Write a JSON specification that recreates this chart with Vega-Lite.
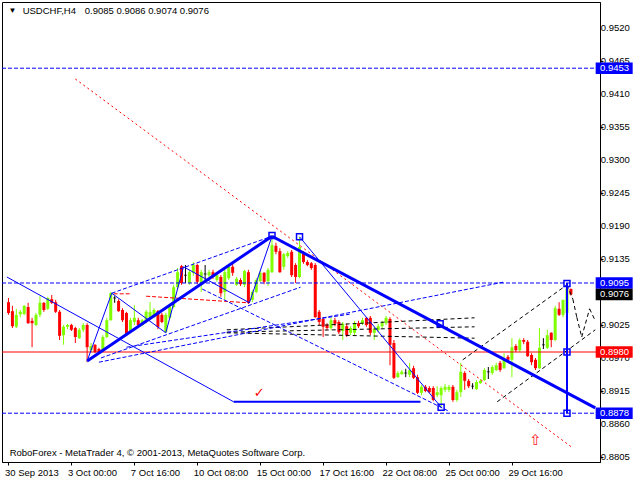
{
"$schema": "https://vega.github.io/schema/vega-lite/v6.json",
"width": 598, "height": 460,
"autosize": {"type": "none"},
"padding": {"left": 2, "top": 2, "right": 40, "bottom": 18},
"background": "white",
"config": {"view": {"stroke": "#000000", "strokeWidth": 1}, "font": "Liberation Sans"},
"datasets": {
"candles": [
{"i":0,"o":0.9063,"c":0.9045,"h":0.9070,"l":0.9042},
{"i":1,"o":0.9048,"c":0.9023,"h":0.9057,"l":0.9020},
{"i":2,"o":0.9022,"c":0.9042,"h":0.9052,"l":0.9020},
{"i":3,"o":0.9043,"c":0.9047,"h":0.9050,"l":0.9038},
{"i":4,"o":0.9043,"c":0.9057,"h":0.9058,"l":0.9042},
{"i":5,"o":0.9055,"c":0.9028,"h":0.9062,"l":0.9027},
{"i":6,"o":0.9032,"c":0.9028,"h":0.9037,"l":0.8988},
{"i":7,"o":0.9025,"c":0.9042,"h":0.9045,"l":0.9023},
{"i":8,"o":0.9042,"c":0.9062,"h":0.9073,"l":0.9038},
{"i":9,"o":0.9062,"c":0.9050,"h":0.9063,"l":0.9047},
{"i":10,"o":0.9052,"c":0.9070,"h":0.9072,"l":0.9050},
{"i":11,"o":0.9068,"c":0.9062,"h":0.9075,"l":0.9060},
{"i":12,"o":0.9063,"c":0.9047,"h":0.9067,"l":0.9045},
{"i":13,"o":0.9047,"c":0.9007,"h":0.9050,"l":0.9000},
{"i":14,"o":0.9008,"c":0.9022,"h":0.9025,"l":0.8992},
{"i":15,"o":0.9022,"c":0.9025,"h":0.9027,"l":0.9018},
{"i":16,"o":0.9025,"c":0.9017,"h":0.9027,"l":0.9015},
{"i":17,"o":0.9020,"c":0.9005,"h":0.9022,"l":0.8995},
{"i":18,"o":0.9003,"c":0.9017,"h":0.9020,"l":0.9002},
{"i":19,"o":0.9017,"c":0.9025,"h":0.9028,"l":0.9013},
{"i":20,"o":0.9025,"c":0.8988,"h":0.9028,"l":0.8963},
{"i":21,"o":0.8983,"c":0.8990,"h":0.8995,"l":0.8980},
{"i":22,"o":0.8992,"c":0.8980,"h":0.8993,"l":0.8978},
{"i":23,"o":0.8985,"c":0.8980,"h":0.8987,"l":0.8978},
{"i":24,"o":0.8983,"c":0.9005,"h":0.9008,"l":0.8982},
{"i":25,"o":0.9005,"c":0.9033,"h":0.9037,"l":0.9003},
{"i":26,"o":0.9033,"c":0.9078,"h":0.9080,"l":0.9032},
{"i":27,"o":0.9070,"c":0.9070,"h":0.9073,"l":0.9062},
{"i":28,"o":0.9065,"c":0.9048,"h":0.9068,"l":0.9047},
{"i":29,"o":0.9050,"c":0.9033,"h":0.9053,"l":0.9030},
{"i":30,"o":0.9045,"c":0.9008,"h":0.9047,"l":0.9007},
{"i":31,"o":0.9015,"c":0.9033,"h":0.9037,"l":0.9013},
{"i":32,"o":0.9030,"c":0.9037,"h":0.9058,"l":0.9025},
{"i":33,"o":0.9033,"c":0.9025,"h":0.9037,"l":0.9022},
{"i":34,"o":0.9025,"c":0.9033,"h":0.9035,"l":0.9023},
{"i":35,"o":0.9030,"c":0.9047,"h":0.9050,"l":0.9028},
{"i":36,"o":0.9038,"c":0.9047,"h":0.9063,"l":0.9037},
{"i":37,"o":0.9038,"c":0.9050,"h":0.9053,"l":0.9037},
{"i":38,"o":0.9048,"c":0.9022,"h":0.9050,"l":0.9018},
{"i":39,"o":0.9042,"c":0.9030,"h":0.9045,"l":0.9028},
{"i":40,"o":0.9013,"c":0.9042,"h":0.9045,"l":0.9012},
{"i":41,"o":0.9037,"c":0.9055,"h":0.9058,"l":0.9035},
{"i":42,"o":0.9055,"c":0.9088,"h":0.9092,"l":0.9053},
{"i":43,"o":0.9088,"c":0.9113,"h":0.9120,"l":0.9085},
{"i":44,"o":0.9123,"c":0.9095,"h":0.9125,"l":0.9092},
{"i":45,"o":0.9108,"c":0.9108,"h":0.9125,"l":0.9095},
{"i":46,"o":0.9095,"c":0.9113,"h":0.9117,"l":0.9092},
{"i":47,"o":0.9112,"c":0.9125,"h":0.9130,"l":0.9107},
{"i":48,"o":0.9125,"c":0.9097,"h":0.9127,"l":0.9093},
{"i":49,"o":0.9093,"c":0.9113,"h":0.9117,"l":0.9080},
{"i":50,"o":0.9110,"c":0.9110,"h":0.9125,"l":0.9095},
{"i":51,"o":0.9108,"c":0.9113,"h":0.9117,"l":0.9105},
{"i":52,"o":0.9113,"c":0.9105,"h":0.9117,"l":0.9102},
{"i":53,"o":0.9100,"c":0.9108,"h":0.9112,"l":0.9097},
{"i":54,"o":0.9105,"c":0.9078,"h":0.9108,"l":0.9072},
{"i":55,"o":0.9080,"c":0.9113,"h":0.9117,"l":0.9067},
{"i":56,"o":0.9103,"c":0.9122,"h":0.9125,"l":0.9100},
{"i":57,"o":0.9122,"c":0.9112,"h":0.9127,"l":0.9107},
{"i":58,"o":0.9092,"c":0.9102,"h":0.9105,"l":0.9090},
{"i":59,"o":0.9100,"c":0.9093,"h":0.9103,"l":0.9090},
{"i":60,"o":0.9092,"c":0.9115,"h":0.9117,"l":0.9088},
{"i":61,"o":0.9113,"c":0.9062,"h":0.9117,"l":0.9060},
{"i":62,"o":0.9067,"c":0.9080,"h":0.9083,"l":0.9063},
{"i":63,"o":0.9080,"c":0.9100,"h":0.9103,"l":0.9078},
{"i":64,"o":0.9098,"c":0.9112,"h":0.9115,"l":0.9097},
{"i":65,"o":0.9112,"c":0.9097,"h":0.9113,"l":0.9093},
{"i":66,"o":0.9098,"c":0.9117,"h":0.9120,"l":0.9090},
{"i":67,"o":0.9113,"c":0.9158,"h":0.9175,"l":0.9112},
{"i":68,"o":0.9157,"c":0.9147,"h":0.9162,"l":0.9143},
{"i":69,"o":0.9148,"c":0.9113,"h":0.9153,"l":0.9112},
{"i":70,"o":0.9122,"c":0.9143,"h":0.9145,"l":0.9117},
{"i":71,"o":0.9140,"c":0.9145,"h":0.9148,"l":0.9137},
{"i":72,"o":0.9147,"c":0.9108,"h":0.9150,"l":0.9105},
{"i":73,"o":0.9125,"c":0.9105,"h":0.9128,"l":0.9095},
{"i":74,"o":0.9105,"c":0.9155,"h":0.9172,"l":0.9103},
{"i":75,"o":0.9145,"c":0.9130,"h":0.9148,"l":0.9127},
{"i":76,"o":0.9130,"c":0.9125,"h":0.9133,"l":0.9123},
{"i":77,"o":0.9128,"c":0.9120,"h":0.9130,"l":0.9117},
{"i":78,"o":0.9125,"c":0.9038,"h":0.9128,"l":0.9037},
{"i":79,"o":0.9047,"c":0.9030,"h":0.9050,"l":0.9025},
{"i":80,"o":0.9035,"c":0.9022,"h":0.9038,"l":0.9005},
{"i":81,"o":0.9025,"c":0.9020,"h":0.9028,"l":0.9017},
{"i":82,"o":0.9020,"c":0.9033,"h":0.9037,"l":0.9017},
{"i":83,"o":0.9033,"c":0.9027,"h":0.9037,"l":0.9023},
{"i":84,"o":0.9030,"c":0.9013,"h":0.9033,"l":0.9010},
{"i":85,"o":0.9015,"c":0.9027,"h":0.9030,"l":0.9000},
{"i":86,"o":0.9023,"c":0.9008,"h":0.9027,"l":0.9005},
{"i":87,"o":0.9012,"c":0.9020,"h":0.9023,"l":0.9008},
{"i":88,"o":0.9012,"c":0.9028,"h":0.9032,"l":0.9008},
{"i":89,"o":0.9028,"c":0.9023,"h":0.9032,"l":0.9020},
{"i":90,"o":0.9028,"c":0.9033,"h":0.9037,"l":0.9025},
{"i":91,"o":0.9037,"c":0.9025,"h":0.9038,"l":0.9022},
{"i":92,"o":0.9037,"c":0.9012,"h":0.9040,"l":0.9008},
{"i":93,"o":0.9012,"c":0.9018,"h":0.9022,"l":0.9000},
{"i":94,"o":0.9017,"c":0.9023,"h":0.9027,"l":0.9013},
{"i":95,"o":0.9023,"c":0.9028,"h":0.9032,"l":0.9020},
{"i":96,"o":0.9028,"c":0.9037,"h":0.9040,"l":0.9025},
{"i":97,"o":0.9035,"c":0.8992,"h":0.9038,"l":0.8958},
{"i":98,"o":0.8995,"c":0.8937,"h":0.9000,"l":0.8935},
{"i":99,"o":0.8938,"c":0.8945,"h":0.8948,"l":0.8937},
{"i":100,"o":0.8943,"c":0.8947,"h":0.8950,"l":0.8942},
{"i":101,"o":0.8945,"c":0.8945,"h":0.8952,"l":0.8938},
{"i":102,"o":0.8942,"c":0.8950,"h":0.8962,"l":0.8938},
{"i":103,"o":0.8953,"c":0.8937,"h":0.8957,"l":0.8935},
{"i":104,"o":0.8938,"c":0.8912,"h":0.8942,"l":0.8910},
{"i":105,"o":0.8912,"c":0.8922,"h":0.8925,"l":0.8908},
{"i":106,"o":0.8922,"c":0.8915,"h":0.8925,"l":0.8913},
{"i":107,"o":0.8920,"c":0.8913,"h":0.8923,"l":0.8912},
{"i":108,"o":0.8920,"c":0.8900,"h":0.8923,"l":0.8898},
{"i":109,"o":0.8908,"c":0.8913,"h":0.8923,"l":0.8905},
{"i":110,"o":0.8908,"c":0.8920,"h":0.8923,"l":0.8887},
{"i":111,"o":0.8917,"c":0.8922,"h":0.8927,"l":0.8913},
{"i":112,"o":0.8917,"c":0.8922,"h":0.8925,"l":0.8913},
{"i":113,"o":0.8922,"c":0.8900,"h":0.8925,"l":0.8897},
{"i":114,"o":0.8900,"c":0.8913,"h":0.8917,"l":0.8897},
{"i":115,"o":0.8913,"c":0.8947,"h":0.8962,"l":0.8905},
{"i":116,"o":0.8945,"c":0.8932,"h":0.8948,"l":0.8917},
{"i":117,"o":0.8932,"c":0.8923,"h":0.8935,"l":0.8920},
{"i":118,"o":0.8923,"c":0.8923,"h":0.8928,"l":0.8918},
{"i":119,"o":0.8918,"c":0.8930,"h":0.8933,"l":0.8917},
{"i":120,"o":0.8928,"c":0.8932,"h":0.8935,"l":0.8927},
{"i":121,"o":0.8933,"c":0.8950,"h":0.8953,"l":0.8932},
{"i":122,"o":0.8947,"c":0.8947,"h":0.8955,"l":0.8935},
{"i":123,"o":0.8945,"c":0.8955,"h":0.8958,"l":0.8942},
{"i":124,"o":0.8950,"c":0.8958,"h":0.8962,"l":0.8948},
{"i":125,"o":0.8962,"c":0.8950,"h":0.8965,"l":0.8947},
{"i":126,"o":0.8953,"c":0.8967,"h":0.8978,"l":0.8952},
{"i":127,"o":0.8972,"c":0.8967,"h":0.8975,"l":0.8963},
{"i":128,"o":0.8967,"c":0.8988,"h":0.9003,"l":0.8938},
{"i":129,"o":0.8990,"c":0.8983,"h":0.8993,"l":0.8980},
{"i":130,"o":0.8983,"c":0.9000,"h":0.9003,"l":0.8980},
{"i":131,"o":0.9000,"c":0.8997,"h":0.9003,"l":0.8993},
{"i":132,"o":0.8997,"c":0.8973,"h":0.9000,"l":0.8972},
{"i":133,"o":0.8975,"c":0.8963,"h":0.8978,"l":0.8958},
{"i":134,"o":0.8967,"c":0.8953,"h":0.8970,"l":0.8950},
{"i":135,"o":0.8953,"c":0.8987,"h":0.9020,"l":0.8952},
{"i":136,"o":0.8992,"c":0.8992,"h":0.9003,"l":0.8985},
{"i":137,"o":0.8987,"c":0.9008,"h":0.9017,"l":0.8985},
{"i":138,"o":0.9012,"c":0.9000,"h":0.9013,"l":0.8988},
{"i":139,"o":0.9000,"c":0.9053,"h":0.9057,"l":0.8998},
{"i":140,"o":0.9052,"c":0.9042,"h":0.9063,"l":0.9040},
{"i":141,"o":0.9042,"c":0.9067,"h":0.9067,"l":0.9038},
{"i":142,"o":0.9045,"c":0.9085,"h":0.9095,"l":0.9043},
{"i":143,"o":0.9085,"c":0.9076,"h":0.9086,"l":0.9074}
],
"yticks": [{"v":0.8805},{"v":0.8860},{"v":0.8915},{"v":0.8970},{"v":0.9025},{"v":0.9135},{"v":0.9190},{"v":0.9245},{"v":0.9300},{"v":0.9355},{"v":0.9410},{"v":0.9465},{"v":0.9520}],
"hblue": [{"p":0.9453},{"p":0.9095},{"p":0.8878}],
"hred": [{"p":0.8980}],
"thick": [
{"x1":20,"p1":0.8965,"x2":67,"p2":0.9173},
{"x1":67,"p1":0.9173,"x2":149.2,"p2":0.8887}
],
"thin": [
{"x1":-0.4,"p1":0.9105,"x2":57.25,"p2":0.8897},
{"x1":20,"p1":0.8965,"x2":26.25,"p2":0.9078},
{"x1":26.25,"p1":0.9078,"x2":40,"p2":0.9012},
{"x1":40,"p1":0.9012,"x2":44.5,"p2":0.9122},
{"x1":44.5,"p1":0.9122,"x2":61.25,"p2":0.9062},
{"x1":61.25,"p1":0.9062,"x2":67,"p2":0.9173},
{"x1":74,"p1":0.9172,"x2":110,"p2":0.8888}
],
"mid": [
{"x1":57.25,"p1":0.8897,"x2":104.75,"p2":0.8897},
{"x1":142,"p1":0.9095,"x2":142,"p2":0.8878}
],
"bdash": [
{"x1":26.25,"p1":0.9078,"x2":67,"p2":0.9173},
{"x1":23.5,"p1":0.8970,"x2":74.25,"p2":0.9088},
{"x1":30,"p1":0.8988,"x2":86.75,"p2":0.9043},
{"x1":23,"p1":0.8963,"x2":126.25,"p2":0.9097},
{"x1":49.25,"p1":0.9085,"x2":111.75,"p2":0.8882}
],
"rdash": [
{"x1":26.75,"p1":0.9077,"x2":31.25,"p2":0.9077},
{"x1":35,"p1":0.9073,"x2":61,"p2":0.9062}
],
"rdot": [
{"x1":17,"p1":0.9435,"x2":143.5,"p2":0.8820}
],
"kdash": [
{"x1":55.5,"p1":0.9017,"x2":118.5,"p2":0.9037},
{"x1":55.5,"p1":0.9013,"x2":118.5,"p2":0.9022},
{"x1":55.5,"p1":0.9012,"x2":118.5,"p2":0.9003},
{"x1":115.5,"p1":0.8967,"x2":142,"p2":0.9092},
{"x1":124.25,"p1":0.8897,"x2":149.2,"p2":0.9017},
{"x1":142,"p1":0.9092,"x2":143.5,"p2":0.9068},
{"x1":143.5,"p1":0.9068,"x2":144.5,"p2":0.9038},
{"x1":144.5,"p1":0.9038,"x2":145.75,"p2":0.9005},
{"x1":145.75,"p1":0.9005,"x2":147.75,"p2":0.9052},
{"x1":147.75,"p1":0.9052,"x2":149.2,"p2":0.9032}
],
"squares": [
{"i":67,"p":0.9174},{"i":74,"p":0.9172},{"i":109.75,"p":0.9027},{"i":110,"p":0.8888},
{"i":142,"p":0.9094},{"i":142,"p":0.8980},{"i":142,"p":0.8878}
],
"boxes": [
{"p":0.9453,"kind":"level"},
{"p":0.9095,"kind":"level"},
{"p":0.9076,"kind":"bid"},
{"p":0.8980,"kind":"pivot"},
{"p":0.8878,"kind":"level"}
]
},
"layer": [
{"data": {"name": "candles"},
 "mark": {"type": "rule", "strokeWidth": 1},
 "encoding": {
  "x": {"field": "i", "type": "quantitative",
   "scale": {"domain": [-0.375, 149.125], "nice": false, "zero": false},
   "axis": {"values": [0,16,32,48,64,80,96,112,128],
    "labelExpr": "['30 Sep 2013','3 Oct 00:00','7 Oct 16:00','10 Oct 08:00','15 Oct 00:00','17 Oct 16:00','22 Oct 08:00','25 Oct 00:00','29 Oct 16:00'][round(datum.value/16)]",
    "title": null, "grid": false, "domainColor": "#000000", "tickColor": "#000000", "tickSize": 3,
    "labelAlign": "left", "labelBaseline": "top", "labelPadding": 2, "labelOffset": -4,
    "labelFontSize": 9.5, "labelColor": "#000000", "labelOverlap": false, "labelFlush": false}},
  "y": {"field": "l", "type": "quantitative",
   "scale": {"domain": [0.8796667, 0.9563333], "nice": false, "zero": false},
   "axis": {"orient": "right", "values": [0.8805,0.886,0.8915,0.897,0.9025,0.908,0.9135,0.919,0.9245,0.93,0.9355,0.941,0.9465,0.952],
    "labels": false, "title": null, "grid": false, "tickSize": 3,
    "domainColor": "#000000", "tickColor": "#000000"}},
  "y2": {"field": "h"},
  "color": {"condition": [{"test": "datum.c > datum.o", "value": "#80ff00"}, {"test": "datum.c < datum.o", "value": "#ff0000"}], "value": "#000000"}
 }},
{"data": {"name": "candles"},
 "mark": {"type": "bar", "size": 3},
 "encoding": {
  "x": {"field": "i", "type": "quantitative"},
  "y": {"field": "o", "type": "quantitative"},
  "y2": {"field": "c"},
  "color": {"condition": [{"test": "datum.c > datum.o", "value": "#80ff00"}, {"test": "datum.c < datum.o", "value": "#ff0000"}], "value": "#000000"}
 }},
{"data": {"name": "candles"},
 "transform": [{"filter": "datum.o == datum.c"}],
 "mark": {"type": "tick", "orient": "horizontal", "size": 3, "thickness": 1, "color": "#000000"},
 "encoding": {"x": {"field": "i", "type": "quantitative"}, "y": {"field": "o", "type": "quantitative"}}},
{"data": {"name": "hblue"},
 "mark": {"type": "rule", "color": "#0000ff", "strokeDash": [4, 2], "strokeWidth": 1},
 "encoding": {"y": {"field": "p", "type": "quantitative"}}},
{"data": {"name": "hred"},
 "mark": {"type": "rule", "color": "#ff0000", "strokeWidth": 1},
 "encoding": {"y": {"field": "p", "type": "quantitative"}}},
{"data": {"name": "rdot"},
 "mark": {"type": "rule", "color": "#ff0000", "strokeDash": [2, 3], "strokeWidth": 1, "clip": true},
 "encoding": {"x": {"field": "x1", "type": "quantitative"}, "y": {"field": "p1", "type": "quantitative"}, "x2": {"field": "x2"}, "y2": {"field": "p2"}}},
{"data": {"name": "rdash"},
 "mark": {"type": "rule", "color": "#ff0000", "strokeDash": [4, 2], "strokeWidth": 1, "clip": true},
 "encoding": {"x": {"field": "x1", "type": "quantitative"}, "y": {"field": "p1", "type": "quantitative"}, "x2": {"field": "x2"}, "y2": {"field": "p2"}}},
{"data": {"name": "kdash"},
 "mark": {"type": "rule", "color": "#000000", "strokeDash": [4, 3], "strokeWidth": 1, "clip": true},
 "encoding": {"x": {"field": "x1", "type": "quantitative"}, "y": {"field": "p1", "type": "quantitative"}, "x2": {"field": "x2"}, "y2": {"field": "p2"}}},
{"data": {"name": "bdash"},
 "mark": {"type": "rule", "color": "#0000ff", "strokeDash": [4, 2], "strokeWidth": 1, "clip": true},
 "encoding": {"x": {"field": "x1", "type": "quantitative"}, "y": {"field": "p1", "type": "quantitative"}, "x2": {"field": "x2"}, "y2": {"field": "p2"}}},
{"data": {"name": "thin"},
 "mark": {"type": "rule", "color": "#0000ff", "strokeWidth": 1, "clip": true},
 "encoding": {"x": {"field": "x1", "type": "quantitative"}, "y": {"field": "p1", "type": "quantitative"}, "x2": {"field": "x2"}, "y2": {"field": "p2"}}},
{"data": {"name": "mid"},
 "mark": {"type": "rule", "color": "#0000ff", "strokeWidth": 2, "clip": true},
 "encoding": {"x": {"field": "x1", "type": "quantitative"}, "y": {"field": "p1", "type": "quantitative"}, "x2": {"field": "x2"}, "y2": {"field": "p2"}}},
{"data": {"name": "thick"},
 "mark": {"type": "rule", "color": "#0000ff", "strokeWidth": 3, "clip": true},
 "encoding": {"x": {"field": "x1", "type": "quantitative"}, "y": {"field": "p1", "type": "quantitative"}, "x2": {"field": "x2"}, "y2": {"field": "p2"}}},
{"data": {"name": "squares"},
 "mark": {"type": "point", "shape": "square", "filled": false, "size": 36, "strokeWidth": 1.5, "color": "#0000ff", "opacity": 1},
 "encoding": {"x": {"field": "i", "type": "quantitative"}, "y": {"field": "p", "type": "quantitative"}}},
{"data": {"values": [{"t": "▼"}]},
 "mark": {"type": "text", "align": "center", "baseline": "middle", "fontSize": 8, "color": "#000000"},
 "encoding": {"x": {"datum": 1}, "y": {"datum": 0.9549}, "text": {"field": "t"}}},
{"data": {"values": [{"t": "USDCHF,H4"}]},
 "mark": {"type": "text", "align": "left", "baseline": "middle", "fontSize": 9.5, "color": "#000000"},
 "encoding": {"x": {"datum": 3.6}, "y": {"datum": 0.9549}, "text": {"field": "t"}}},
{"data": {"values": [{"t": "0.9085 0.9086 0.9074 0.9076"}]},
 "mark": {"type": "text", "align": "left", "baseline": "middle", "fontSize": 9.5, "color": "#000000"},
 "encoding": {"x": {"datum": 19.4}, "y": {"datum": 0.9549}, "text": {"field": "t"}}},
{"data": {"values": [{"t": "RoboForex - MetaTrader 4, © 2001-2013, MetaQuotes Software Corp."}]},
 "mark": {"type": "text", "align": "left", "baseline": "middle", "fontSize": 9.5, "color": "#000000"},
 "encoding": {"x": {"datum": 0.3}, "y": {"datum": 0.8811}, "text": {"field": "t"}}},
{"data": {"values": [{"t": "✓"}]},
 "mark": {"type": "text", "align": "center", "baseline": "middle", "fontSize": 13, "color": "#ff0000", "font": "DejaVu Sans"},
 "encoding": {"x": {"datum": 63.75}, "y": {"datum": 0.8912}, "text": {"field": "t"}}},
{"data": {"values": [{"t": "⇧"}]},
 "mark": {"type": "text", "align": "center", "baseline": "middle", "fontSize": 15, "color": "#ff2020", "font": "DejaVu Sans"},
 "encoding": {"x": {"datum": 134}, "y": {"datum": 0.8834}, "text": {"field": "t"}}},
{"data": {"name": "yticks"},
 "mark": {"type": "text", "align": "left", "baseline": "middle", "fontSize": 9.5, "color": "#000000"},
 "encoding": {"x": {"datum": 150.6}, "y": {"field": "v", "type": "quantitative"}, "text": {"field": "v", "type": "quantitative", "format": ".4f"}}},
{"data": {"name": "boxes"},
 "mark": {"type": "point", "shape": "M-1,-0.31H1V0.31H-1Z", "filled": true, "size": 1369, "opacity": 1, "strokeWidth": 0},
 "encoding": {"x": {"datum": 154}, "y": {"field": "p", "type": "quantitative"},
  "color": {"field": "kind", "type": "nominal", "scale": {"domain": ["level", "bid", "pivot"], "range": ["#0000ff", "#000000", "#ff0000"]}, "legend": null}}},
{"data": {"name": "boxes"},
 "mark": {"type": "text", "align": "left", "baseline": "middle", "fontSize": 9.5, "color": "#ffffff"},
 "encoding": {"x": {"datum": 150.4}, "y": {"field": "p", "type": "quantitative"}, "text": {"field": "p", "type": "quantitative", "format": ".4f"}}}
]
}
